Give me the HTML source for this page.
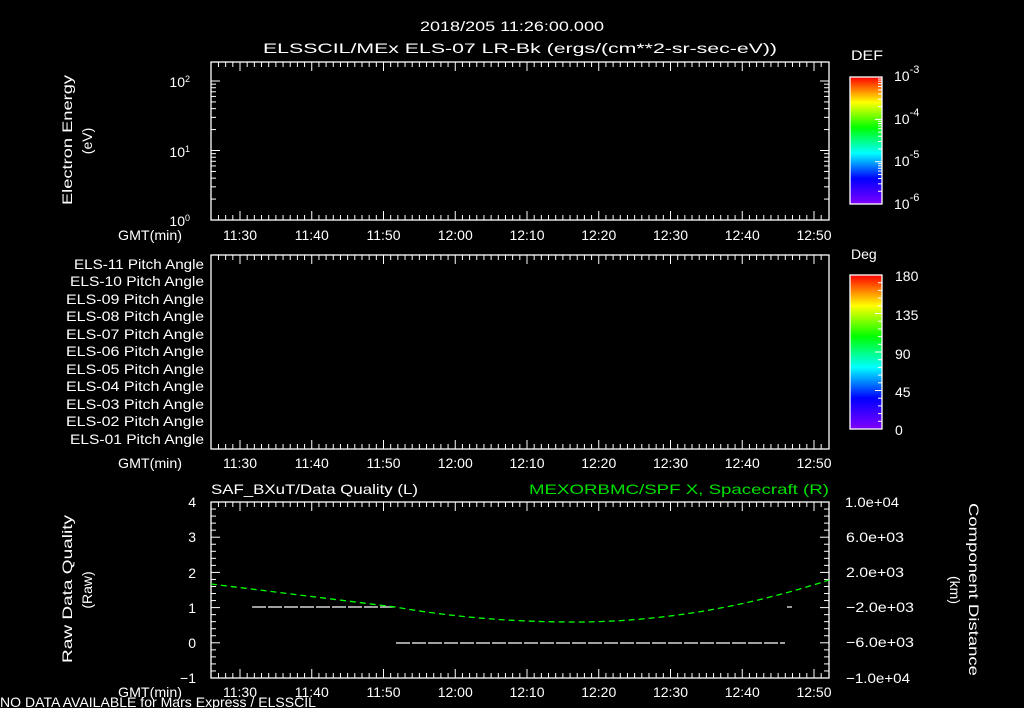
<!DOCTYPE html>
<html><head><style>
html,body{margin:0;padding:0;background:#000;}
svg{display:block}
text{font-family:"Liberation Sans",sans-serif;fill:#fff;font-size:14px}
</style></head><body>
<svg width="1024" height="708" viewBox="0 0 1024 708" xmlns="http://www.w3.org/2000/svg">
<defs>
<linearGradient id="rb" x1="0" y1="1" x2="0" y2="0">
<stop offset="0" stop-color="#8000ff"/>
<stop offset="0.2" stop-color="#0000ff"/>
<stop offset="0.4" stop-color="#00ffff"/>
<stop offset="0.6" stop-color="#00ff00"/>
<stop offset="0.8" stop-color="#ffff00"/>
<stop offset="1" stop-color="#ff0000"/>
</linearGradient>
</defs>
<text x="420" y="31" font-size="17" textLength="184" lengthAdjust="spacingAndGlyphs">2018/205 11:26:00.000</text>
<text x="263" y="53" font-size="17" textLength="514" lengthAdjust="spacingAndGlyphs">ELSSCIL/MEx ELS-07 LR-Bk  (ergs/(cm**2-sr-sec-eV))</text>

<g stroke="#fff" fill="none" stroke-width="1.3" id="frames">
<rect x="211" y="62" width="618" height="158"/>
<rect x="211" y="255" width="618" height="194"/>
<rect x="211" y="502" width="618" height="176"/>
</g>
<g id="ticks" stroke="#fff" stroke-width="1"></g>

<text x="190" y="87" font-size="13" text-anchor="end">10<tspan dy="-5" font-size="9">2</tspan></text>
<text x="190" y="157" font-size="13" text-anchor="end">10<tspan dy="-5" font-size="9">1</tspan></text>
<text x="190" y="226" font-size="13" text-anchor="end">10<tspan dy="-5" font-size="9">0</tspan></text>
<text transform="translate(72,205) rotate(-90)" font-size="15" textLength="130" lengthAdjust="spacingAndGlyphs">Electron Energy</text>
<text transform="translate(92,141) rotate(-90)" text-anchor="middle" font-size="15">(eV)</text>

<g font-size="14">
<text x="74" y="269" textLength="130" lengthAdjust="spacingAndGlyphs">ELS-11 Pitch Angle</text>
<text x="70" y="286" textLength="134" lengthAdjust="spacingAndGlyphs">ELS-10 Pitch Angle</text>
<text x="66" y="304" textLength="138" lengthAdjust="spacingAndGlyphs">ELS-09 Pitch Angle</text>
<text x="66" y="321" textLength="138" lengthAdjust="spacingAndGlyphs">ELS-08 Pitch Angle</text>
<text x="66" y="339" textLength="138" lengthAdjust="spacingAndGlyphs">ELS-07 Pitch Angle</text>
<text x="66" y="356" textLength="138" lengthAdjust="spacingAndGlyphs">ELS-06 Pitch Angle</text>
<text x="66" y="374" textLength="138" lengthAdjust="spacingAndGlyphs">ELS-05 Pitch Angle</text>
<text x="66" y="391" textLength="138" lengthAdjust="spacingAndGlyphs">ELS-04 Pitch Angle</text>
<text x="66" y="409" textLength="138" lengthAdjust="spacingAndGlyphs">ELS-03 Pitch Angle</text>
<text x="66" y="426" textLength="138" lengthAdjust="spacingAndGlyphs">ELS-02 Pitch Angle</text>
<text x="70" y="444" textLength="134" lengthAdjust="spacingAndGlyphs">ELS-01 Pitch Angle</text>
</g>

<g font-size="15" text-anchor="middle" id="tl"></g>
<text x="118" y="240" font-size="15" textLength="64" lengthAdjust="spacingAndGlyphs">GMT(min)</text>
<text x="118" y="468" font-size="15" textLength="64" lengthAdjust="spacingAndGlyphs">GMT(min)</text>
<text x="118" y="697" font-size="15" textLength="64" lengthAdjust="spacingAndGlyphs">GMT(min)</text>

<text x="211" y="494" font-size="17" textLength="207" lengthAdjust="spacingAndGlyphs">SAF_BXuT/Data Quality (L)</text>
<text x="529" y="494" font-size="17" style="fill:#00e000" textLength="300" lengthAdjust="spacingAndGlyphs">MEXORBMC/SPF X, Spacecraft (R)</text>
<g font-size="15" text-anchor="end">
<text x="196" y="507">4</text><text x="196" y="542">3</text><text x="196" y="578">2</text>
<text x="196" y="613">1</text><text x="196" y="648">0</text><text x="196" y="683">−1</text>
</g>
<g font-size="14">
<text x="845" y="507" textLength="54" lengthAdjust="spacingAndGlyphs">1.0e+04</text>
<text x="846" y="542" textLength="58" lengthAdjust="spacingAndGlyphs">6.0e+03</text>
<text x="846" y="577" textLength="58" lengthAdjust="spacingAndGlyphs">2.0e+03</text>
<text x="846" y="612" textLength="68" lengthAdjust="spacingAndGlyphs">−2.0e+03</text>
<text x="846" y="647" textLength="68" lengthAdjust="spacingAndGlyphs">−6.0e+03</text>
<text x="846" y="683" textLength="64" lengthAdjust="spacingAndGlyphs">−1.0e+04</text>
</g>
<text transform="translate(72,663) rotate(-90)" font-size="15" textLength="148" lengthAdjust="spacingAndGlyphs">Raw Data Quality</text>
<text transform="translate(92,590) rotate(-90)" text-anchor="middle" font-size="15">(Raw)</text>
<text transform="translate(969,503) rotate(90)" font-size="15" textLength="173" lengthAdjust="spacingAndGlyphs">Component Distance</text>
<text transform="translate(950,590) rotate(90)" text-anchor="middle" font-size="15">(km)</text>

<g stroke="#fff" stroke-width="1.2">
<line x1="252" y1="607" x2="395" y2="607" stroke-dasharray="14,2"/>
<line x1="396" y1="643" x2="785" y2="643" stroke-dasharray="14,2"/>
<line x1="787" y1="607" x2="792" y2="607"/>
</g>
<path d="M211,584 Q300,595 395,607 Q480,622 575,622 Q700,622 829,580" stroke="#00ff00" stroke-width="1.3" fill="none" stroke-dasharray="6,4"/>

<text x="0" y="707" font-size="13" textLength="316" lengthAdjust="spacingAndGlyphs">NO DATA AVAILABLE for Mars  Express / ELSSCIL</text>

<text x="851" y="60" font-size="16" textLength="32" lengthAdjust="spacingAndGlyphs">DEF</text>
<rect x="850" y="77" width="32" height="127" fill="url(#rb)" stroke="#fff" stroke-width="1.3"/>
<g font-size="17">
<text x="894" y="81">10<tspan dy="-8" font-size="11">-3</tspan></text>
<text x="894" y="124">10<tspan dy="-8" font-size="11">-4</tspan></text>
<text x="894" y="166">10<tspan dy="-8" font-size="11">-5</tspan></text>
<text x="894" y="209">10<tspan dy="-8" font-size="11">-6</tspan></text>
</g>
<text x="851" y="259" font-size="16">Deg</text>
<rect x="850" y="275" width="32" height="154" fill="url(#rb)" stroke="#fff" stroke-width="1.3"/>
<g font-size="17">
<text x="895" y="281">180</text><text x="895" y="320">135</text><text x="895" y="359">90</text>
<text x="895" y="397">45</text><text x="895" y="435">0</text>
</g>
<g id="cbt" stroke="#fff" stroke-width="1"></g>
</svg>
<script>
var NS="http://www.w3.org/2000/svg";
function L(g,x1,y1,x2,y2){var l=document.createElementNS(NS,"line");l.setAttribute("x1",x1);l.setAttribute("y1",y1);l.setAttribute("x2",x2);l.setAttribute("y2",y2);g.appendChild(l);}
var t=document.getElementById("ticks"),tl=document.getElementById("tl");
var ppm=7.175,x0=240-4*ppm;
var panels=[[62,220],[255,449],[502,678]];
for(var m=0;m<=86;m++){var x=x0+m*ppm;if(x<212||x>828)continue;var maj=((m+26)%10==0);var h=maj?9:5;
panels.forEach(function(p){L(t,x,p[0],x,p[0]+h);L(t,x,p[1],x,p[1]-h);});
if(maj){var hh=11+Math.floor((m+26)/60),mm=(m+26)%60;var s=hh+":"+(mm<10?"0":"")+mm;
[240,468,697].forEach(function(y){var e=document.createElementNS(NS,"text");e.setAttribute("x",x);e.setAttribute("y",y);e.textContent=s;tl.appendChild(e);});}}
for(var d=0;d<2;d++){for(var k=1;k<=10;k++){var y=220-(d+Math.log10(k))*69.5;var h=(k==1||k==10)?9:5;L(t,211,y,211+h,y);L(t,829,y,829-h,y);}}
for(var i=0;i<=25;i++){var y=502+i*176/25;var h=(i%5==0)?9:5;L(t,211,y,211+h,y);L(t,829,y,829-h,y);}
var c=document.getElementById("cbt");
for(var i=0;i<=3;i++){for(var k=1;k<10;k++){var y=204-(i+Math.log10(k))*42.3;if(y<78)continue;L(c,882,y,882-(k==1?7:4),y);}}
for(var i=0;i<=20;i++){var y=429-i*154/20;L(c,882,y,882-(i%5==0?7:4),y);}
</script>
</body></html>
